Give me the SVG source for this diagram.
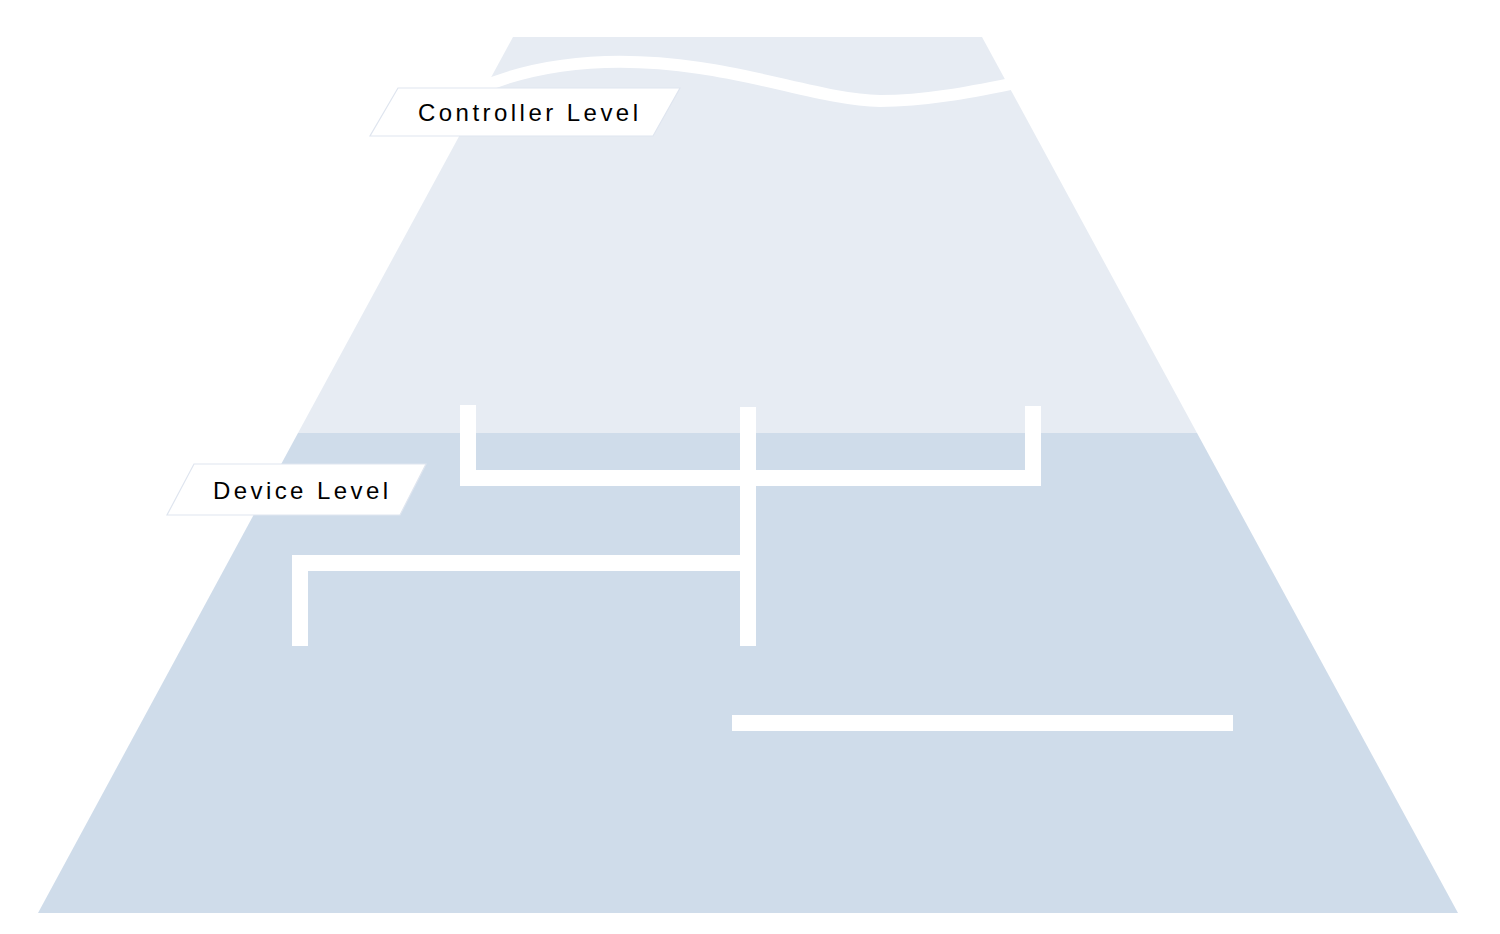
<svg xmlns="http://www.w3.org/2000/svg" width="1500" height="934" viewBox="0 0 1500 934">
<style>
.pipe{fill:#ffffff}
.lbl{fill:#ffffff;stroke:#dfe5ef;stroke-width:1.2}
.t{font-family:"Liberation Sans",Arial,sans-serif;font-size:24px;fill:#000}
</style>
<rect width="1500" height="934" fill="#fff"/>
<g id="controller-level-area">
<polygon points="513,37 982,37 1197,433 298,433" fill="#e7ecf3"/>
</g>
<g id="device-level-area">
<polygon points="298,433 1197,433 1458,913 38,913" fill="#cfdcea"/>
</g>
<g id="connectors">
<path d="M470,92 C540,60 620,56 700,68 C770,78 830,100 880,101 C930,101 980,90 1020,82" fill="none" stroke="#fff" stroke-width="12"/>
<rect class="pipe" x="460" y="405" width="16" height="81"/>
<rect class="pipe" x="460" y="470" width="581" height="16"/>
<rect class="pipe" x="1025" y="406" width="16" height="80"/>
<rect class="pipe" x="740" y="407" width="16" height="239"/>
<rect class="pipe" x="292" y="555" width="456" height="16"/>
<rect class="pipe" x="292" y="555" width="16" height="91"/>
<rect class="pipe" x="732" y="715" width="501" height="16"/>
</g>
<g id="label-controller">
<polygon class="lbl" points="398,88 680,88 653,136 370,136"/>
<text class="t" x="418" y="121" textLength="220" lengthAdjust="spacing">Controller Level</text>
</g>
<g id="label-device">
<polygon class="lbl" points="194,464 426,464 400,515 167,515"/>
<text class="t" x="213" y="499" textLength="175" lengthAdjust="spacing">Device Level</text>
</g>
</svg>
